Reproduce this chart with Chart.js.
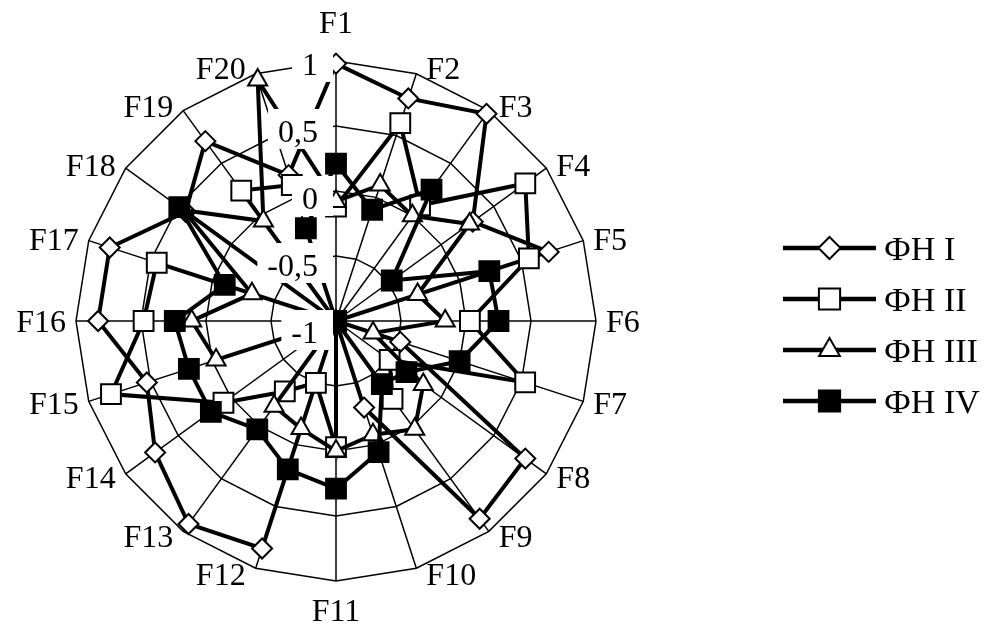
<!DOCTYPE html>
<html>
<head>
<meta charset="utf-8">
<title>ФН radar</title>
<script src="https://cdn.jsdelivr.net/npm/chart.js@4.4.1/dist/chart.umd.min.js"></script>
<style>
  html, body { margin: 0; padding: 0; background: #fff; }
  #wrap { width: 984px; height: 637px; }
</style>
</head>
<body>
<div id="wrap"><canvas id="radar" width="984" height="637"></canvas></div>
<script>
// categories (axes), read clockwise from the top
const categories = ['F1', 'F2', 'F3', 'F4', 'F5', 'F6', 'F7', 'F8', 'F9', 'F10',
                    'F11', 'F12', 'F13', 'F14', 'F15', 'F16', 'F17', 'F18', 'F19', 'F20'];

// series values
const fn1 = [0.98, 0.8, 0.97, 0.3, 0.72, -1, -0.48, 0.8, 0.88, -0.3,
             -1, 0.84, 0.93, 0.72, 0.53, 0.83, 0.83, 0.43, 0.71, 0.18];
const fn2 = [-0.12, 0.6, 0.1, 0.8, 0.56, 0.03, 0.53, -0.49, -0.26, -1,
             -0.03, -0.5, -0.33, 0.07, 0.82, 0.48, 0.45, -1, 0.24, 0.1];
const fn3 = [-0.08, 0.1, 0.0, 0.27, -0.34, -0.16, -0.7, -0.17, 0.03, -0.08,
             0.0, -0.13, -0.19, -1, -0.03, 0.11, -0.32, 0.45, -0.05, 0.95];
const fn4 = [0.21, -0.1, 0.25, -0.47, 0.24, 0.25, 0.0, -0.33, -0.4, 0.06,
             0.29, 0.2, 0.03, 0.19, 0.19, 0.24, -0.1, 0.49, -1, -0.25];

const seriesNames = ['ФН I', 'ФН II', 'ФН III', 'ФН IV'];

// radial ticks
const tickValues = [-1, -0.5, 0, 0.5, 1];
const tickLabels = ['-1', '-0,5', '0', '0,5', '1'];

const FONT = '32px "Liberation Serif", "Times New Roman", serif';
const LEGEND_FONT = '34px "Liberation Serif", "Times New Roman", serif';

// marker look per series (same order as seriesNames)
const markers = [
  { style: 'rectRot', radius: 10, fill: '#fff' },
  { style: 'rect', radius: 14, fill: '#fff' },
  { style: 'triangle', radius: 11, fill: '#fff' },
  { style: 'rect', radius: 14, fill: '#000' }
];

// tick labels sit left of the F1 axis on a white box, over the lines
const tickLabelPlugin = {
  id: 'tickLabelBoxes',
  afterDatasetsDraw(chart) {
    const r = chart.scales.r;
    const ctx = chart.ctx;
    ctx.save();
    ctx.font = FONT;
    ctx.textAlign = 'right';
    tickValues.forEach((v, k) => {
      const y = r.yCenter - r.getDistanceFromCenterForValue(v);
      const base = y + 14 + (1 - v) * 4;
      const right = r.xCenter - 18;
      const w = ctx.measureText(tickLabels[k]).width;
      ctx.fillStyle = '#fff';
      ctx.fillRect(right - w - 10, base - 33, w + 25, 40);
      ctx.fillStyle = '#000';
      ctx.fillText(tickLabels[k], right, base);
    });
    ctx.restore();
  }
};

// axis names outside the outer ring
const axisNamePlugin = {
  id: 'axisNames',
  afterDraw(chart) {
    const r = chart.scales.r;
    const ctx = chart.ctx;
    ctx.save();
    ctx.font = FONT;
    ctx.fillStyle = '#000';
    categories.forEach((txt, i) => {
      const p = r.getPointPosition(i, r.drawingArea);
      const deg = i * 360 / categories.length;
      const cos = Math.cos(deg * Math.PI / 180);
      let x = p.x;
      let base;
      if (deg === 0) {
        ctx.textAlign = 'center';
        base = p.y - 28;
      } else if (deg === 180) {
        ctx.textAlign = 'center';
        base = p.y + 40;
      } else {
        ctx.textAlign = deg < 180 ? 'left' : 'right';
        x += deg < 180 ? 10 : -10;
        base = p.y - 6 * cos + 11;
      }
      ctx.fillText(txt, x, base);
    });
    ctx.restore();
  }
};

// legend: line - marker - line, then the name
const lineLegendPlugin = {
  id: 'lineLegend',
  afterDraw(chart, args, opts) {
    const ctx = chart.ctx;
    ctx.save();
    ctx.font = LEGEND_FONT;
    ctx.textAlign = 'left';
    seriesNames.forEach((name, k) => {
      const y = opts.top + k * opts.gap;
      ctx.strokeStyle = '#000';
      ctx.lineWidth = 4.5;
      ctx.beginPath();
      ctx.moveTo(opts.left, y);
      ctx.lineTo(opts.left + opts.width, y);
      ctx.stroke();
      const m = markers[k];
      ctx.fillStyle = m.fill;
      ctx.lineWidth = 2;
      Chart.helpers.drawPoint(ctx, { pointStyle: m.style, radius: m.radius + 1, rotation: 0, borderWidth: 2 },
        opts.left + opts.width / 2, y);
      ctx.fillStyle = '#000';
      ctx.fillText(name, opts.left + opts.width + 8, y + 12);
    });
    ctx.restore();
  }
};

const seriesData = [fn1, fn2, fn3, fn4];

new Chart(document.getElementById('radar'), {
  type: 'radar',
  data: {
    labels: categories,
    datasets: seriesData.map((vals, k) => ({
      label: seriesNames[k],
      data: vals,
      fill: false,
      tension: 0,
      borderColor: '#000',
      borderWidth: 4,
      pointStyle: markers[k].style,
      pointRadius: markers[k].radius,
      pointBackgroundColor: markers[k].fill,
      pointBorderColor: '#000',
      pointBorderWidth: 2,
      order: seriesData.length - k
    }))
  },
  options: {
    responsive: false,
    animation: false,
    devicePixelRatio: 1,
    layout: { padding: { left: 76, top: 61, right: 388, bottom: 56 } },
    scales: {
      r: {
        min: -1,
        max: 1,
        ticks: { display: false, stepSize: 0.5 },
        grid: { color: '#000', lineWidth: 1.5, circular: false },
        angleLines: { color: '#000', lineWidth: 1.5 },
        pointLabels: { display: false }
      }
    },
    plugins: {
      legend: { display: false },
      tooltip: { enabled: false },
      lineLegend: { left: 783, width: 93, top: 248, gap: 51 }
    }
  },
  plugins: [tickLabelPlugin, axisNamePlugin, lineLegendPlugin]
});
</script>
</body>
</html>
